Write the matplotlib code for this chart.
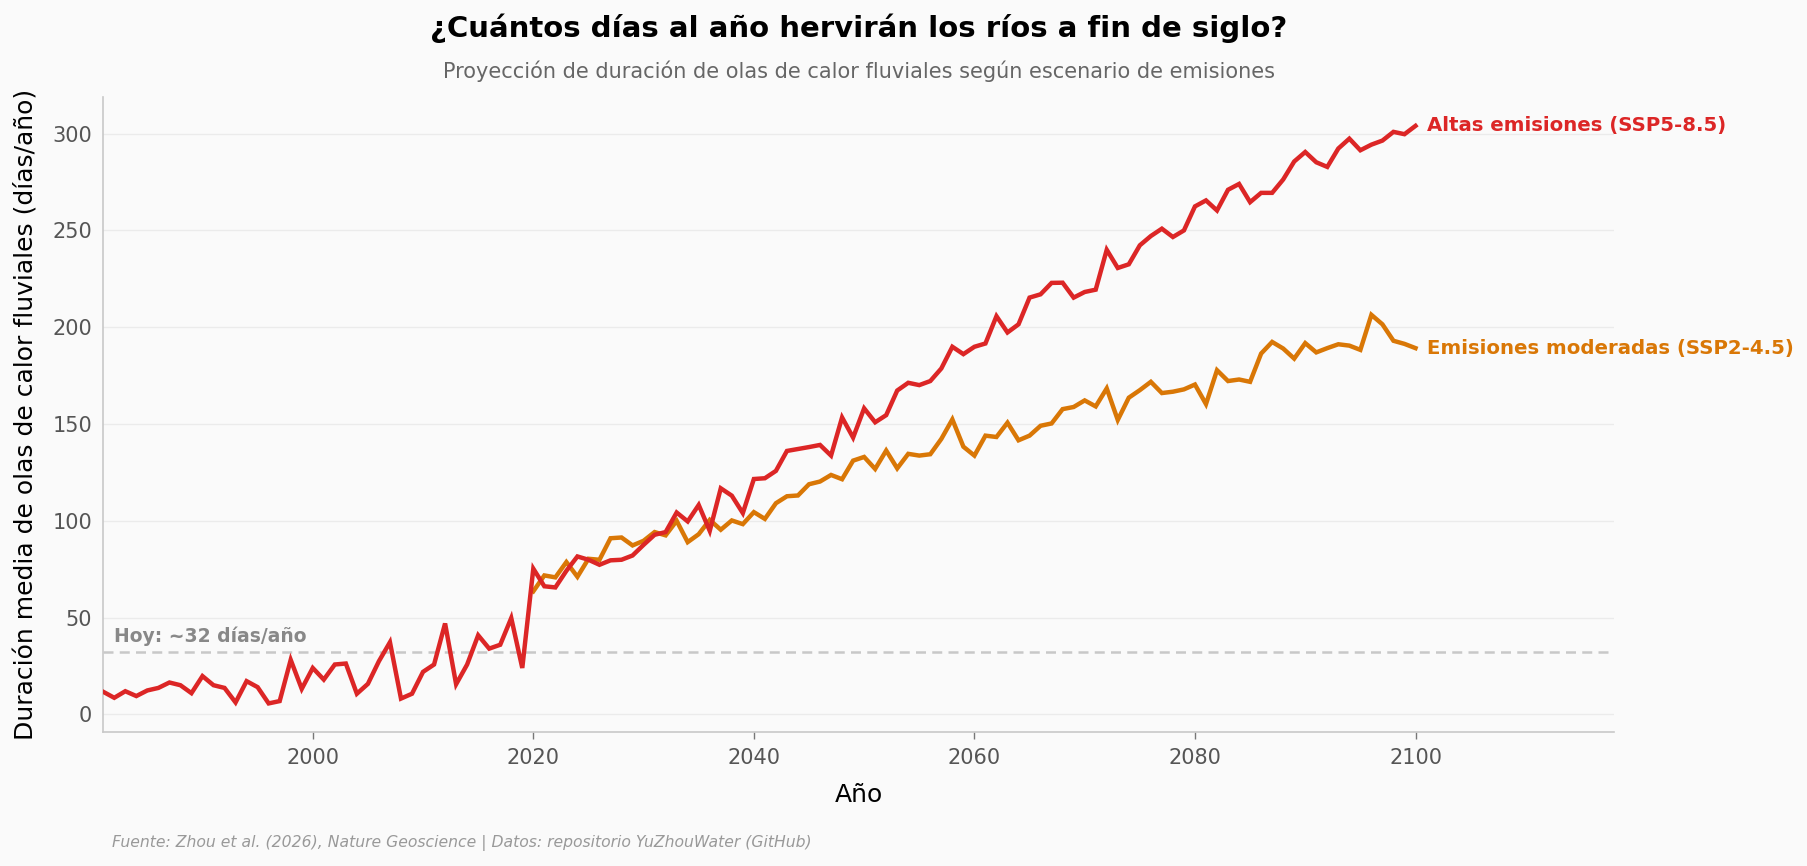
import matplotlib.pyplot as plt

# years
years_hist = list(range(1981, 2101))
years_ssp2 = list(range(2020, 2101))

# SSP5-8.5 (historic part included), days/year
ssp5 = [11.7, 8.6, 12.0, 9.5, 12.4, 13.7, 16.5, 15.1, 11.0, 19.8,
        15.1, 13.7, 6.2, 17.2, 14.1, 5.7, 6.9, 28.2, 13.2, 24.0,
        18.0, 25.8, 26.3, 10.7, 15.8, 27.5, 37.3, 8.2, 10.7, 22.0,
        25.8, 47.0, 15.6, 25.8, 40.9, 34.0, 36.0, 49.8, 24.0, 75.3,
        66.2, 65.6, 74.2, 81.6, 79.9, 77.3, 79.6, 79.9, 82.1, 87.6,
        92.8, 94.2, 104.3, 99.7, 108.2, 94.8, 116.8, 113.0, 104.0, 121.6,
        122.0, 125.8, 136.1, 137.1, 138.1, 139.2, 133.7, 153.4, 143.0, 158.1,
        150.9, 154.6, 167.3, 171.3, 170.1, 172.2, 178.7, 189.9, 186.1, 189.9,
        191.6, 205.7, 197.3, 201.5, 215.3, 217.0, 222.9, 223.0, 215.3, 218.2,
        219.4, 240.0, 230.6, 232.5, 242.3, 247.1, 250.9, 246.6, 250.0, 262.4,
        265.5, 260.3, 271.0, 274.0, 264.6, 269.4, 269.4, 276.3, 285.6, 290.5,
        285.2, 282.8, 292.3, 297.4, 291.4, 294.3, 296.4, 300.9, 299.7, 304.0]

# SSP2-4.5, from 2020
ssp2 = [63.6, 71.8, 70.8, 78.7, 71.1, 80.4, 79.9, 91.0, 91.4, 87.3,
        89.7, 94.2, 92.5, 100.0, 89.0, 93.1, 100.5, 95.4, 100.2, 98.3,
        104.5, 101.0, 109.1, 112.7, 113.1, 118.9, 120.3, 123.7, 121.5, 131.1,
        133.0, 126.8, 136.3, 127.1, 134.6, 133.7, 134.4, 142.3, 152.4, 138.3,
        133.7, 144.0, 143.3, 150.7, 141.6, 144.0, 149.1, 150.3, 157.7, 158.8,
        162.2, 159.1, 168.4, 152.1, 163.6, 167.5, 171.8, 166.0, 166.7, 167.9,
        170.4, 160.3, 177.8, 172.2, 173.0, 171.8, 186.4, 192.4, 189.0, 183.8,
        191.8, 187.0, 189.2, 191.2, 190.5, 188.3, 206.4, 201.5, 193.0, 191.4,
        189.2]

today = 32
red = '#dc2626'
orange = '#d97706'
bg = '#fafafa'

fig = plt.figure(figsize=(18.08, 8.66), dpi=100, facecolor=bg)
ax = fig.add_axes([0.0571, 0.1544, 0.8356, 0.7336], facecolor=bg)

ax.plot(years_ssp2, ssp2, color=orange, lw=3.2, solid_joinstyle='miter', zorder=3)
ax.plot(years_hist, ssp5, color=red, lw=3.2, solid_joinstyle='miter', zorder=4)

ax.axhline(today, color='#c8c8c8', lw=1.8, ls='--', dashes=(4, 2.5), zorder=2)
ax.text(1982, 35.5, 'Hoy: ~32 días/año', color='#888888', fontsize=13.5,
        fontweight='bold', va='bottom', ha='left')

ax.text(2101, ssp5[-1], 'Altas emisiones (SSP5-8.5)', color=red, fontsize=14.2,
        fontweight='bold', va='center', ha='left')
ax.text(2101, ssp2[-1], 'Emisiones moderadas (SSP2-4.5)', color=orange, fontsize=14.2,
        fontweight='bold', va='center', ha='left')

ax.set_xlim(1981, 2118)
ax.grid(axis='y', color='#ebebeb', lw=1)
ax.set_axisbelow(True)
for s in ['top', 'right']:
  ax.spines[s].set_visible(False)
for s in ['left', 'bottom']:
  ax.spines[s].set_color('#c8c8c8')
  ax.spines[s].set_linewidth(1.2)
ax.tick_params(axis='x', colors='#555555', labelsize=15, length=5, width=1, pad=6)
ax.tick_params(axis='y', colors='#555555', labelsize=15, length=0, pad=8)
ax.tick_params(axis='x', color='#777777')

ax.set_xlabel('Año', fontsize=18, labelpad=11)
ax.set_ylabel('Duración media de olas de calor fluviales (días/año)', fontsize=18, labelpad=10)

fig.text(0.4749, 0.9675, '¿Cuántos días al año hervirán los ríos a fin de siglo?',
         fontsize=21, fontweight='bold', ha='center', va='center')
fig.text(0.4749, 0.9175, 'Proyección de duración de olas de calor fluviales según escenario de emisiones',
         fontsize=15, color='#666666', ha='center', va='center')
fig.text(0.062, 0.027, 'Fuente: Zhou et al. (2026), Nature Geoscience | Datos: repositorio YuZhouWater (GitHub)',
         fontsize=11.25, color='#999999', style='italic', ha='left', va='center')

fig.savefig('out.png', dpi=100, facecolor=bg)
